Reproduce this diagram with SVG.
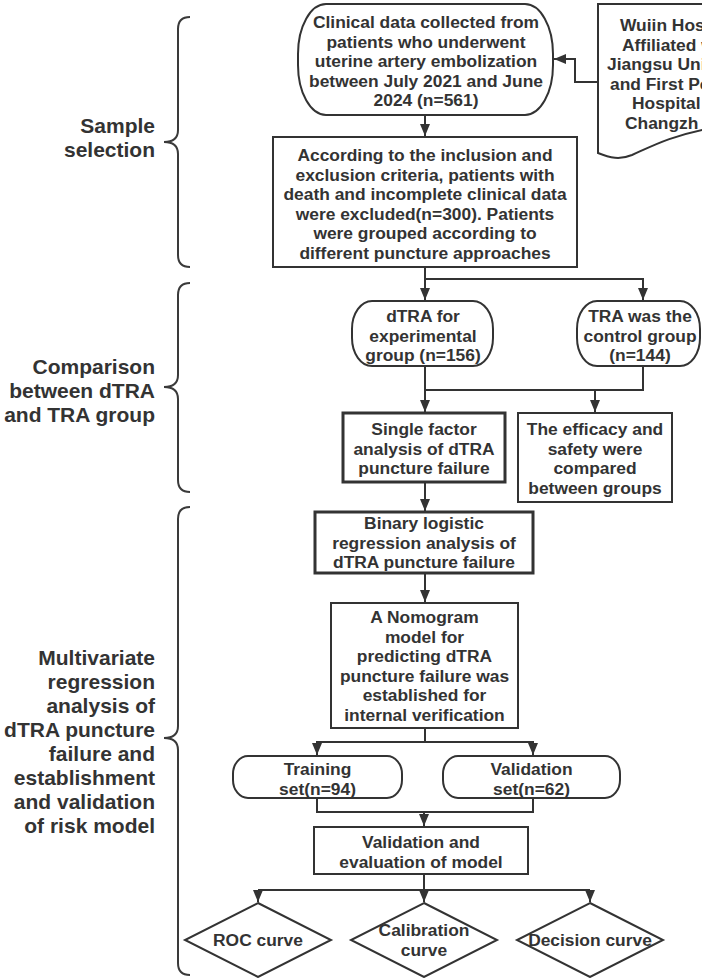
<svg xmlns="http://www.w3.org/2000/svg" width="702" height="978" viewBox="0 0 702 978">
<defs>
<style>
.bg{fill:#ffffff}
.n{fill:#ffffff;stroke:#333333;stroke-width:2}
.nb{fill:#ffffff;stroke:#333333;stroke-width:3}
.t{font-family:"Liberation Sans",Arial,sans-serif;font-weight:bold;font-size:17.4px;fill:#333333;text-anchor:middle}
.ts{font-family:"Liberation Sans",Arial,sans-serif;font-weight:bold;font-size:17.4px;fill:#333333;text-anchor:start}
.lab{font-family:"Liberation Sans",Arial,sans-serif;font-weight:bold;font-size:21px;fill:#333333;text-anchor:end}
.c{fill:none;stroke:#333333;stroke-width:2}
.br{fill:none;stroke:#3a3a3a;stroke-width:2}
</style>
<marker id="ah" viewBox="0 0 12 10" refX="12" refY="5" markerWidth="12" markerHeight="10" markerUnits="userSpaceOnUse" orient="auto">
<path d="M0,0 L12,5 L0,10 Z" fill="#333333"/>
</marker>
</defs>
<rect class="bg" x="0" y="0" width="702" height="978"/>

<g id="braces">
<path class="br" d="M190,17 Q178,17 178,29 V130 Q178,142 164,142 Q178,142 178,154 V255 Q178,267 190,267"/>
<path class="br" d="M190,283 Q178,283 178,295 V375 Q178,387 164,387 Q178,387 178,399 V480 Q178,492 190,492"/>
<path class="br" d="M190,507 Q178,507 178,519 V726 Q178,738 164,738 Q178,738 178,750 V963 Q178,975 190,975"/>
</g>

<g id="label-sample">
<text class="lab"><tspan x="155" y="133">Sample</tspan><tspan x="155" dy="24">selection</tspan></text>
</g>
<g id="label-comparison">
<text class="lab"><tspan x="155" y="374">Comparison</tspan><tspan x="155" dy="24">between dTRA</tspan><tspan x="155" dy="24">and TRA group</tspan></text>
</g>
<g id="label-multivariate">
<text class="lab"><tspan x="155" y="665">Multivariate</tspan><tspan x="155" dy="24">regression</tspan><tspan x="155" dy="24">analysis of</tspan><tspan x="155" dy="24">dTRA puncture</tspan><tspan x="155" dy="24">failure and</tspan><tspan x="155" dy="24">establishment</tspan><tspan x="155" dy="24">and validation</tspan><tspan x="155" dy="24">of risk model</tspan></text>
</g>

<g id="connectors">
<path class="c" d="M425,115 V136" marker-end="url(#ah)"/>
<path class="c" d="M598,82 H575 V59 H554" marker-end="url(#ah)"/>
<path class="c" d="M425,267 V300" marker-end="url(#ah)"/>
<path class="c" d="M425,279 H643 V300" marker-end="url(#ah)"/>
<path class="c" d="M425,366 V412" marker-end="url(#ah)"/>
<path class="c" d="M643,366 V390 H425"/>
<path class="c" d="M595,390 V412" marker-end="url(#ah)"/>
<path class="c" d="M425,482 V511" marker-end="url(#ah)"/>
<path class="c" d="M425,573 V602" marker-end="url(#ah)"/>
<path class="c" d="M425,728 V742 H317 V755" marker-end="url(#ah)"/>
<path class="c" d="M425,742 H533 V755" marker-end="url(#ah)"/>
<path class="c" d="M317,798 V812 H533 V798"/>
<path class="c" d="M424,812 V826" marker-end="url(#ah)"/>
<path class="c" d="M424,874 V902" marker-end="url(#ah)"/>
<path class="c" d="M258,890 H590"/>
<path class="c" d="M258,890 V902" marker-end="url(#ah)"/>
<path class="c" d="M590,890 V902" marker-end="url(#ah)"/>
</g>

<g id="node-source">
<path class="n" d="M598,4 H712 V128 C672,135 650,147 632,155 C620,160 610,158 598,153 Z"/>
<text class="ts"><tspan x="620" y="31">Wuiin Hos</tspan><tspan x="622" y="50.5">Affiliated w</tspan><tspan x="607" y="70">Jiangsu Univ</tspan><tspan x="610" y="89.5">and First Pe</tspan><tspan x="632" y="109">Hospital</tspan><tspan x="625" y="128.5">Changzh</tspan></text>
</g>

<g id="node-clinical">
<rect class="n" x="298" y="4" width="255" height="111" rx="28" ry="50" stroke-width="2.5"/>
<text class="t"><tspan x="426" y="28">Clinical data collected from</tspan><tspan x="426" dy="19.5">patients who underwent</tspan><tspan x="426" dy="19.5">uterine artery embolization</tspan><tspan x="426" dy="19.5">between July 2021 and June</tspan><tspan x="426" dy="19.5">2024 (n=561)</tspan></text>
</g>

<g id="node-criteria">
<rect class="n" x="273" y="137" width="304" height="130"/>
<text class="t"><tspan x="425" y="161">According to the inclusion and</tspan><tspan x="425" dy="19.5">exclusion criteria, patients with</tspan><tspan x="425" dy="19.5">death and incomplete clinical data</tspan><tspan x="425" dy="19.5">were excluded(n=300). Patients</tspan><tspan x="425" dy="19.5">were grouped according to</tspan><tspan x="425" dy="19.5">different puncture approaches</tspan></text>
</g>

<g id="node-dtra">
<rect class="n" x="352" y="301" width="141" height="65" rx="20" ry="28"/>
<text class="t"><tspan x="423" y="322">dTRA for</tspan><tspan x="423" dy="19.5">experimental</tspan><tspan x="423" dy="19.5">group (n=156)</tspan></text>
</g>

<g id="node-tra">
<rect class="n" x="577" y="301" width="123" height="65" rx="20" ry="28"/>
<text class="t"><tspan x="640" y="322">TRA was the</tspan><tspan x="640" dy="19.5">control group</tspan><tspan x="640" dy="19.5">(n=144)</tspan></text>
</g>

<g id="node-single">
<rect class="nb" x="343" y="413" width="162" height="69"/>
<text class="t"><tspan x="424" y="435">Single factor</tspan><tspan x="424" dy="19.5">analysis of dTRA</tspan><tspan x="424" dy="19.5">puncture failure</tspan></text>
</g>

<g id="node-efficacy">
<rect class="n" x="518" y="413" width="154" height="89"/>
<text class="t"><tspan x="595" y="435">The efficacy and</tspan><tspan x="595" dy="19.5">safety were</tspan><tspan x="595" dy="19.5">compared</tspan><tspan x="595" dy="19.5">between groups</tspan></text>
</g>

<g id="node-binary">
<rect class="nb" x="315" y="512" width="218" height="61"/>
<text class="t"><tspan x="424" y="529">Binary logistic</tspan><tspan x="424" dy="19.5">regression analysis of</tspan><tspan x="424" dy="19.5">dTRA puncture failure</tspan></text>
</g>

<g id="node-nomogram">
<rect class="n" x="331" y="603" width="187" height="125"/>
<text class="t"><tspan x="424.5" y="623">A Nomogram</tspan><tspan x="424.5" dy="19.5">model for</tspan><tspan x="424.5" dy="19.5">predicting dTRA</tspan><tspan x="424.5" dy="19.5">puncture failure was</tspan><tspan x="424.5" dy="19.5">established for</tspan><tspan x="424.5" dy="19.5">internal verification</tspan></text>
</g>

<g id="node-training">
<rect class="n" x="233" y="756" width="169" height="42" rx="15" ry="18" stroke-width="2.5"/>
<text class="t"><tspan x="317.5" y="775">Training</tspan><tspan x="317.5" dy="20">set(n=94)</tspan></text>
</g>

<g id="node-validation">
<rect class="n" x="443" y="756" width="177" height="42" rx="15" ry="18"/>
<text class="t"><tspan x="531.5" y="775">Validation</tspan><tspan x="531.5" dy="20">set(n=62)</tspan></text>
</g>

<g id="node-evaluation">
<rect class="n" x="314" y="827" width="214" height="47"/>
<text class="t"><tspan x="421" y="848">Validation and</tspan><tspan x="421" dy="19.5">evaluation of model</tspan></text>
</g>

<g id="node-roc">
<polygon class="n" points="258,903 331,940 258,977 185,940"/>
<text class="t" x="258" y="946">ROC curve</text>
</g>

<g id="node-calibration">
<polygon class="n" points="424,903 497,940 424,977 351,940"/>
<text class="t"><tspan x="424" y="936">Calibration</tspan><tspan x="424" dy="20">curve</tspan></text>
</g>

<g id="node-decision">
<polygon class="n" points="590,903 663,940 590,977 517,940"/>
<text class="t" x="590" y="946">Decision curve</text>
</g>
</svg>
